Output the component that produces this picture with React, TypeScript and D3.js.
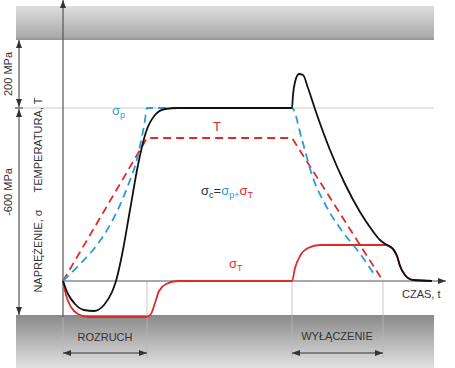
import React, { useEffect, useRef } from 'react';
import * as d3 from 'd3';

// time (t) and value (v) readings, schematic units
const sigmaC: [number, number][] = [
  [0, 0], [0.5, -1.3], [1.2, -2.3], [2.1, -2.9], [3.1, -3.0], [4.1, -2.4], [4.9, -1.1],
  [5.3, 0], [5.9, 2.6], [6.7, 7.1], [7.5, 11.6], [8.3, 14.9], [9.2, 16.6], [10.2, 17.2],
  [11.5, 17.3], [22.9, 17.3], [23.0, 18.6], [23.2, 19.9], [23.6, 20.7], [24.0, 20.6],
  [24.5, 19.3], [25.3, 16.9], [26.7, 13.1], [28.2, 9.7], [29.7, 6.9], [30.9, 5.1],
  [31.7, 4.1], [32.4, 3.6], [33.0, 3.2], [33.4, 2.5], [33.7, 1.5], [34.2, 0.6],
  [35.0, 0.1], [36.9, 0],
];
const sigmaT: [number, number][] = [
  [0, 0], [0.3, -1.4], [0.8, -2.6], [1.5, -3.3], [2.5, -3.6], [8.3, -3.6],
  [8.8, -3.3], [9.2, -2.2], [9.6, -1.0], [10.3, -0.3], [11.5, 0], [22.9, 0],
  [23.2, 1.3], [23.7, 2.5], [24.5, 3.3], [25.7, 3.6], [32.2, 3.6], [33.0, 3.2],
  [33.4, 2.5], [33.7, 1.5], [34.2, 0.6], [35.0, 0.1], [36.9, 0],
];
const sigmaP: [number, number][] = [
  [0, 0], [1.7, 1.7], [3.4, 3.6], [4.7, 5.6], [6.4, 9.3], [7.5, 12.6], [8.2, 16.1],
  [8.4, 17.3], [22.9, 17.3], [23.9, 14.1], [25.0, 10.3], [26.2, 7.7], [27.9, 5.0],
  [29.5, 3.0], [31.3, 0.4],
];
const temperature: [number, number][] = [
  [0, 0], [8.4, 14.3], [22.9, 14.3], [32.0, 0],
];
const phaseStart = [0, 8.4];   // ROZRUCH
const phaseStop = [22.9, 32.0]; // WYŁĄCZENIE

const RED = '#dd2b2b';
const BLUE = '#2d9bd8';
const DARK = '#333';
const FONT = 'Liberation Sans, Arial, sans-serif';

const Chart = () => {
  const svgRef = useRef<SVGSVGElement>(null);

  useEffect(() => {
    const svg = d3.select(svgRef.current);
    svg.selectAll('*').remove();
    draw();
  }, []);

  const draw = () => {
    const width = 455, height = 368;
    const x = d3.scaleLinear().domain([0, 38]).range([63, 443]);
    const y = d3.scaleLinear().domain([0, 28]).range([281, 1]);

    const svg = d3.select(svgRef.current).attr('width', width).attr('height', height);
    const defs = svg.append('defs');

    const gTop = defs.append('linearGradient').attr('id', 'gTop').attr('x1', 0).attr('y1', 0).attr('x2', 0).attr('y2', 1);
    gTop.append('stop').attr('offset', '0%').attr('stop-color', '#dedede');
    gTop.append('stop').attr('offset', '90%').attr('stop-color', '#ababab');
    gTop.append('stop').attr('offset', '100%').attr('stop-color', '#959595');
    const gBot = defs.append('linearGradient').attr('id', 'gBot').attr('x1', 0).attr('y1', 0).attr('x2', 0).attr('y2', 1);
    gBot.append('stop').attr('offset', '0%').attr('stop-color', '#8a8a8a');
    gBot.append('stop').attr('offset', '100%').attr('stop-color', '#e2e2e2');

    defs.append('marker').attr('id', 'arr').attr('viewBox', '0 0 8 6').attr('refX', 8).attr('refY', 3)
      .attr('markerWidth', 8).attr('markerHeight', 6).attr('markerUnits', 'userSpaceOnUse')
      .attr('orient', 'auto-start-reverse')
      .append('path').attr('d', 'M0,0L8,3L0,6z').attr('fill', DARK);

    // gray bands
    svg.append('rect').attr('x', 16).attr('y', 6).attr('width', 418).attr('height', 34).attr('fill', 'url(#gTop)');
    svg.append('rect').attr('x', 16).attr('y', 315).attr('width', 418).attr('height', 53).attr('fill', 'url(#gBot)');

    // reference level line
    svg.append('line').attr('x1', 16).attr('x2', 434).attr('y1', y(17.3)).attr('y2', y(17.3))
      .attr('stroke', '#dcdcdc').attr('stroke-width', 1.5);
    svg.append('line').attr('x1', 15).attr('x2', 23).attr('y1', y(17.3)).attr('y2', y(17.3))
      .attr('stroke', DARK).attr('stroke-width', 1);

    // dimension arrows on the left
    const dim = (y1: number, y2: number) => svg.append('line').attr('x1', 19).attr('x2', 19)
      .attr('y1', y1).attr('y2', y2).attr('stroke', DARK).attr('stroke-width', 1)
      .attr('marker-start', 'url(#arr)').attr('marker-end', 'url(#arr)');
    dim(40, y(17.3) - 1);
    dim(y(17.3) + 1, 315);

    // thin guides for phases
    [phaseStart[0], phaseStart[1], phaseStop[0], phaseStop[1]].forEach((t, i) => {
      svg.append('line').attr('x1', x(t)).attr('x2', x(t))
        .attr('y1', i === 0 ? 317 : y(0)).attr('y2', 358)
        .attr('stroke', '#b8b8b8').attr('stroke-width', 0.8);
    });

    // axes
    svg.append('line').attr('x1', x(0)).attr('x2', x(0)).attr('y1', 317).attr('y2', 0)
      .attr('stroke', '#555').attr('stroke-width', 1.2).attr('marker-end', 'url(#arr)');
    svg.append('line').attr('x1', x(0)).attr('x2', 446).attr('y1', y(0)).attr('y2', y(0))
      .attr('stroke', '#555').attr('stroke-width', 1.2).attr('marker-end', 'url(#arr)');

    // phase arrows
    [phaseStart, phaseStop].forEach(p => {
      svg.append('line').attr('x1', x(p[0])).attr('x2', x(p[1])).attr('y1', 353).attr('y2', 353)
        .attr('stroke', DARK).attr('stroke-width', 1)
        .attr('marker-start', 'url(#arr)').attr('marker-end', 'url(#arr)');
    });

    const line = d3.line<[number, number]>().x(d => x(d[0])).y(d => y(d[1]));

    svg.append('path').attr('d', line.curve(d3.curveLinear)(temperature))
      .attr('fill', 'none').attr('stroke', RED).attr('stroke-width', 1.8).attr('stroke-dasharray', '8,5');
    svg.append('path').attr('d', line.curve(d3.curveMonotoneX)(sigmaP))
      .attr('fill', 'none').attr('stroke', BLUE).attr('stroke-width', 1.8).attr('stroke-dasharray', '8,5');
    svg.append('path').attr('d', line.curve(d3.curveMonotoneX)(sigmaT))
      .attr('fill', 'none').attr('stroke', RED).attr('stroke-width', 1.8);
    svg.append('path').attr('d', line.curve(d3.curveMonotoneX)(sigmaC))
      .attr('fill', 'none').attr('stroke', '#111').attr('stroke-width', 1.8);

    // texts
    const txt = (tx: number, ty: number, s: string, opts: any = {}) => svg.append('text')
      .attr('x', tx).attr('y', ty).attr('font-family', FONT).attr('font-size', opts.size || 11)
      .attr('fill', opts.color || DARK).attr('text-anchor', opts.anchor || 'start')
      .attr('transform', opts.rot ? `rotate(-90, ${tx}, ${ty})` : null).text(s);

    txt(12, 74, '200 MPa', { rot: true, anchor: 'middle' });
    txt(12, 192, '-600 MPa', { rot: true, anchor: 'middle' });
    txt(42, 145, 'TEMPERATURA, T', { rot: true, anchor: 'middle' });
    txt(42, 251, 'NAPRĘŻENIE, σ', { rot: true, anchor: 'middle' });
    txt(105, 341, 'ROZRUCH', { anchor: 'middle' });
    txt(337, 340, 'WYŁĄCZENIE', { anchor: 'middle' });
    txt(402, 298, 'CZAS, t');
    txt(217, 131, 'T', { color: RED, size: 13, anchor: 'middle' });

    const sig = (tx: number, ty: number, parts: [string, string, boolean][]) => {
      const t = svg.append('text').attr('x', tx).attr('y', ty).attr('font-family', FONT).attr('font-size', 13);
      let down = false;
      parts.forEach(([s, c, sub]) => {
        const dy = sub && !down ? 3 : !sub && down ? -3 : 0;
        t.append('tspan').text(s).attr('fill', c)
          .attr('font-size', sub ? 9 : 13).attr('dy', dy || null);
        down = sub;
      });
    };
    sig(112, 115, [['σ', BLUE, false], ['p', BLUE, true]]);
    sig(229, 268, [['σ', RED, false], ['T', RED, true]]);
    sig(201, 195, [['σ', DARK, false], ['c', DARK, true], ['=', DARK, false], ['σ', BLUE, false],
      ['p', BLUE, true], ['+', BLUE, true], ['σ', RED, false], ['T', RED, true]]);
  };

  return <svg ref={svgRef} style={{ position: 'absolute', left: 0, top: 0 }}></svg>;
};

export default function App() {
  return <Chart />;
}
